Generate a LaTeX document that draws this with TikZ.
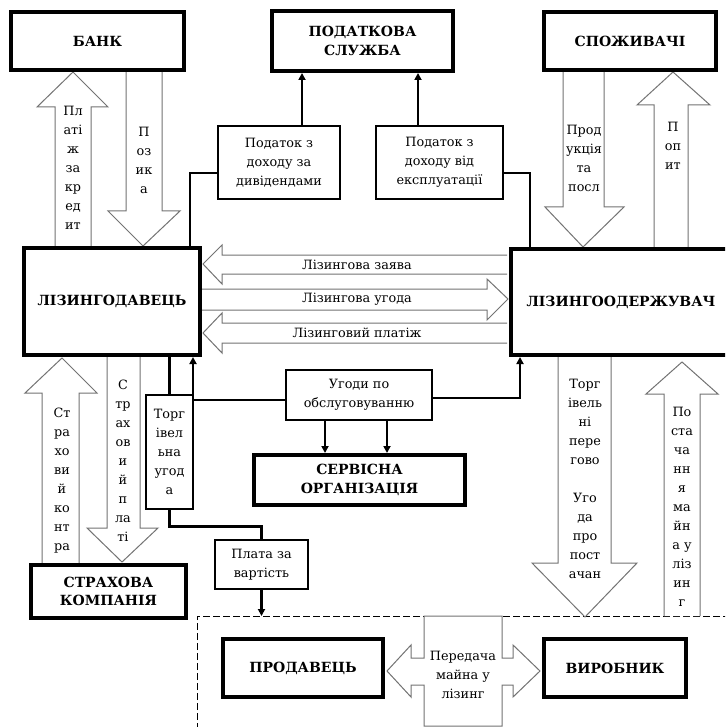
\documentclass[tikz,border=0pt]{standalone}
\usepackage{fontspec}
\setmainfont{DejaVu Serif}
\usetikzlibrary{arrows.meta}
\begin{document}
\begin{tikzpicture}[x=1pt,y=-1pt,
  thickbox/.style={draw,line width=4pt,fill=white,align=center,font=\rmfamily\fontsize{14}{18.5}\selectfont\bfseries,inner sep=0pt},
  thinbox/.style={draw,line width=1.1pt,fill=white,align=center,font=\rmfamily\fontsize{12.8}{19}\selectfont,inner sep=0pt},
  blk/.style={draw=black!55,line width=1pt,fill=white,line join=miter},
  lbl/.style={align=center,font=\rmfamily\fontsize{12.8}{19}\selectfont,inner sep=0pt},
  conn/.style={line width=2.5pt},
  tip/.style={-{Triangle[length=7pt,width=7pt]}}
]
\clip (0,0) rectangle (725,727);
\fill[white] (0,0) rectangle (725,727);

% dashed region
\coordinate (dtl) at (197,616);
\draw[dashed,line width=0.8pt,dash pattern=on 7pt off 3pt] (197,740) -- (dtl) -- (740,616);

% block arrows
\draw[blk] (55,246) -- (55,107) -- (37,107) -- (73,72) -- (108,107) -- (91,107) -- (91,246);
\draw[blk] (126,72) -- (126,211) -- (108,211) -- (143,246) -- (180,211) -- (162,211) -- (162,72);
\draw[blk] (563,72) -- (563,207) -- (545,207) -- (583,247) -- (624,207) -- (604,207) -- (604,72);
\draw[blk] (654,247) -- (654,105) -- (637,105) -- (673,72) -- (710,105) -- (688,105) -- (688,247);
\draw[blk] (507,255) -- (222,255) -- (222,245) -- (203,264) -- (222,284) -- (222,274) -- (507,274);
\draw[blk] (202,289) -- (487,289) -- (487,279) -- (508,299) -- (487,320) -- (487,310) -- (202,310);
\draw[blk] (507,323) -- (222,323) -- (222,313) -- (203,333) -- (222,353) -- (222,343) -- (507,343);
\draw[blk] (42,563) -- (42,393) -- (25,393) -- (62,358) -- (97,393) -- (79,393) -- (79,563);
\draw[blk] (107,357) -- (107,528) -- (87,528) -- (122,562) -- (158,528) -- (140,528) -- (140,357);
\draw[blk] (558,357) -- (558,563) -- (532,563) -- (585,617) -- (637,563) -- (611,563) -- (611,357);
\draw[blk] (664,616) -- (664,394) -- (646,394) -- (682,362) -- (718,394) -- (700,394) -- (700,616);
\draw[blk] (424,616) -- (424,658) -- (411,658) -- (411,645) -- (387,671) -- (411,697) -- (411,685) -- (424,685) -- (424,726) -- (502,726) -- (502,685) -- (513,685) -- (513,697) -- (540,671) -- (513,645) -- (513,658) -- (502,658) -- (502,616) -- cycle;

% boxes
\node[thickbox, minimum width=173pt, minimum height=58pt] (bank) at (97.5,41) {БАНК};
\node[thickbox, minimum width=181pt, minimum height=60pt] (tax) at (362.5,41) {ПОДАТКОВА\\СЛУЖБА};
\node[thickbox, minimum width=172pt, minimum height=58pt] (cons) at (630,41) {СПОЖИВАЧІ};
\node[thinbox, minimum width=122pt, minimum height=73pt] (tax1) at (279,162.5) {Податок з\\доходу за\\дивідендами};
\node[thinbox, minimum width=127pt, minimum height=73pt] (tax2) at (439.5,162.5) {Податок з\\доходу від\\експлуатації};
\node[thickbox, minimum width=176pt, minimum height=107pt] (lessor) at (112,301.5) {ЛІЗИНГОДАВЕЦЬ};
\node[thickbox, minimum width=220pt, minimum height=106pt] (lessee) at (621,302) {ЛІЗИНГООДЕРЖУВАЧ};
\node[thinbox, minimum width=146pt, minimum height=50pt] (servag) at (359,395) {Угоди по\\обслуговуванню};
\node[thickbox, minimum width=211pt, minimum height=50pt] (service) at (359.5,480) {СЕРВІСНА\\ОРГАНІЗАЦІЯ};
\node[thinbox, minimum width=47pt, minimum height=114pt] (trade) at (169.5,452) {Торг\\івел\\ьна\\угод\\а};
\node[thickbox, minimum width=155pt, minimum height=53pt] (ins) at (108.5,591.5) {СТРАХОВА\\КОМПАНІЯ};
\node[thinbox, minimum width=93pt, minimum height=49pt] (pay) at (261.5,564.5) {Плата за\\вартість};
\node[thickbox, minimum width=160pt, minimum height=58pt] (seller) at (303,668) {ПРОДАВЕЦЬ};
\node[thickbox, minimum width=142pt, minimum height=58pt] (maker) at (615,668) {ВИРОБНИК};

% connectors
\draw[conn,tip] ([xshift=23pt]tax1.north) -- ([xshift=23pt]tax1.north |- tax.south);
\draw[conn,tip] ([xshift=-21.5pt]tax2.north) -- ([xshift=-21.5pt]tax2.north |- tax.south);
\draw[conn] ([yshift=-10.5pt]tax1.west) -| ([xshift=-12pt]lessor.north east);
\draw[conn] ([yshift=-10.5pt]tax2.east) -| ([xshift=21pt]lessee.north west);
\draw[conn,tip] ([yshift=-5pt]servag.west) -| ([xshift=-9pt]lessor.south east);
\draw[conn,tip] ([yshift=-3pt]servag.east) -| ([xshift=11pt]lessee.south west);
\draw[conn,tip] ([xshift=-34pt]servag.south) -- ([xshift=-34pt]servag.south |- service.north);
\draw[conn,tip] ([xshift=28pt]servag.south) -- ([xshift=28pt]servag.south |- service.north);
\draw[conn] (trade.north) -- (trade.north |- lessor.south);
\draw[conn] (trade.south) -- ++(0,17) -| (pay.north);
\draw[conn,tip] (pay.south) -- (pay.south |- dtl);

% labels
\node[lbl] (tzay) at (357,265) {Лізингова заява};
\node[lbl] (tugd) at (357,299) {Лізингова угода};
\node[lbl] (tplz) at (357,333) {Лізинговий платіж};
\node[lbl] (tplat) at (73,168) {Пл\\аті\\ж\\за\\кр\\ед\\ит};
\node[lbl] (tpoz) at (144,160) {П\\оз\\ик\\а};
\node[lbl] (tprod) at (584,158) {Прод\\укція\\та\\посл};
\node[lbl] (tpop) at (673,146) {П\\оп\\ит};
\node[lbl] (tstrk) at (62,481) {Ст\\ра\\хо\\ви\\й\\ко\\нт\\ра};
\node[lbl] (tstrp) at (123,461) {С\\тр\\ах\\ов\\и\\й\\п\\ла\\ті};
\node[lbl] (ttorgp) at (585,479) {Торг\\івель\\ні\\пере\\гово\\[19pt]Уго\\да\\про\\пост\\ачан};
\node[lbl] (tpost) at (682,507) {По\\ста\\ча\\нн\\я\\ма\\йн\\а у\\ліз\\ин\\г};
\node[lbl] (tpered) at (463,675) {Передача\\майна у\\лізинг};
\end{tikzpicture}
\end{document}
